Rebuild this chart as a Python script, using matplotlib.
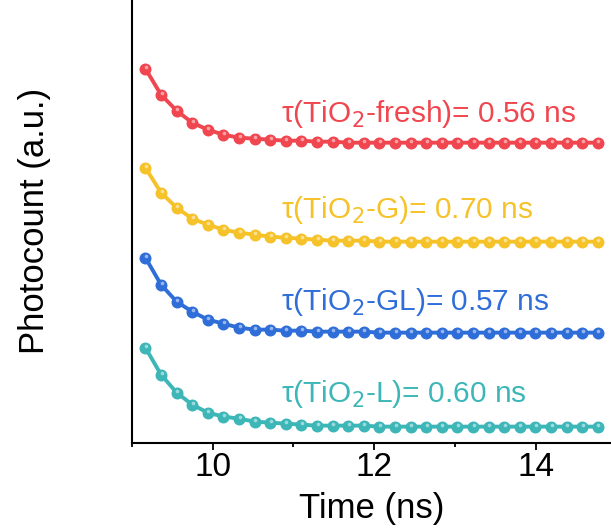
import numpy as np
import matplotlib
matplotlib.use("Agg")
import matplotlib.pyplot as plt
from matplotlib.ticker import MultipleLocator
from matplotlib.transforms import offset_copy

plt.rcParams['font.family'] = ['Liberation Sans', 'DejaVu Sans']

# time axis (ns)
t0 = 9.17
dt = 0.193
n = 30
t = t0 + dt * np.arange(n)

# decay traces (a.u., vertically offset)
fresh = [374, 348, 332, 320, 313, 308, 305, 304, 303, 302, 302, 301, 301, 300,
         300, 300, 300, 300, 300, 300, 300, 300, 300, 300, 300, 300, 300, 300, 300, 300]
g = [275, 250, 235, 224, 218, 213, 210, 208, 206, 205, 204, 203, 202, 202,
     202, 201, 201, 201, 201, 201, 201, 201, 201, 201, 201, 201, 201, 201, 201, 201]
gl = [185, 158, 141, 131, 123, 119, 115, 113, 113, 112, 112, 111, 111, 111,
      111, 110, 110, 110, 110, 110, 110, 110, 110, 110, 110, 110, 110, 110, 110, 110]
l = [95, 68, 50, 38, 30, 26, 24, 21, 20, 19, 18, 17, 17, 17,
     17, 16, 16, 16, 16, 16, 16, 16, 16, 16, 16, 16, 16, 16, 16, 16]

series = [fresh, g, gl, l]
colors = ['#F0464F', '#F6C22A', '#2F6ED8', '#3DB6B8']
labels = ['τ(TiO$_2$-fresh)= 0.56 ns', 'τ(TiO$_2$-G)= 0.70 ns',
          'τ(TiO$_2$-GL)= 0.57 ns', 'τ(TiO$_2$-L)= 0.60 ns']
label_y = [321, 225, 133, 41]

fig = plt.figure(figsize=(6.11, 5.32), dpi=100)
ax = fig.add_axes([0.2155, 0.168, 0.7845, 0.832])

for y, c in zip(series, colors):
    ax.plot(t, y, '-', color=c, lw=2.8, marker='o', ms=7.6, mec=c, mfc=c)
    # small highlight on each bead
    tr = offset_copy(ax.transData, fig=fig, x=0.4, y=1.0, units='points')
    ax.plot(t, y, 'o', color='white', ms=2.6, alpha=0.5, mec='none', transform=tr)

for s, c, yy in zip(labels, colors, label_y):
    ax.text(10.845, yy, s, color=c, fontsize=21.5, va='baseline', ha='left')

ax.set_xlim(9.0, 14.93)
ax.set_ylim(0, 442.7)
ax.xaxis.set_major_locator(MultipleLocator(2))
ax.xaxis.set_minor_locator(MultipleLocator(1))
ax.set_yticks([])
ax.tick_params(axis='x', which='major', direction='out', length=5, width=1.3, labelsize=24, pad=2)
ax.tick_params(axis='x', which='minor', direction='out', length=3, width=1.3)
for sp in ['left', 'bottom']:
    ax.spines[sp].set_linewidth(1.5)
ax.spines['right'].set_visible(False)
ax.spines['top'].set_visible(False)

ax.set_xlabel('Time (ns)', fontsize=25, labelpad=6)
ax.set_ylabel('Photocount (a.u.)', fontsize=25, labelpad=58)

fig.savefig('out.png', dpi=100)
